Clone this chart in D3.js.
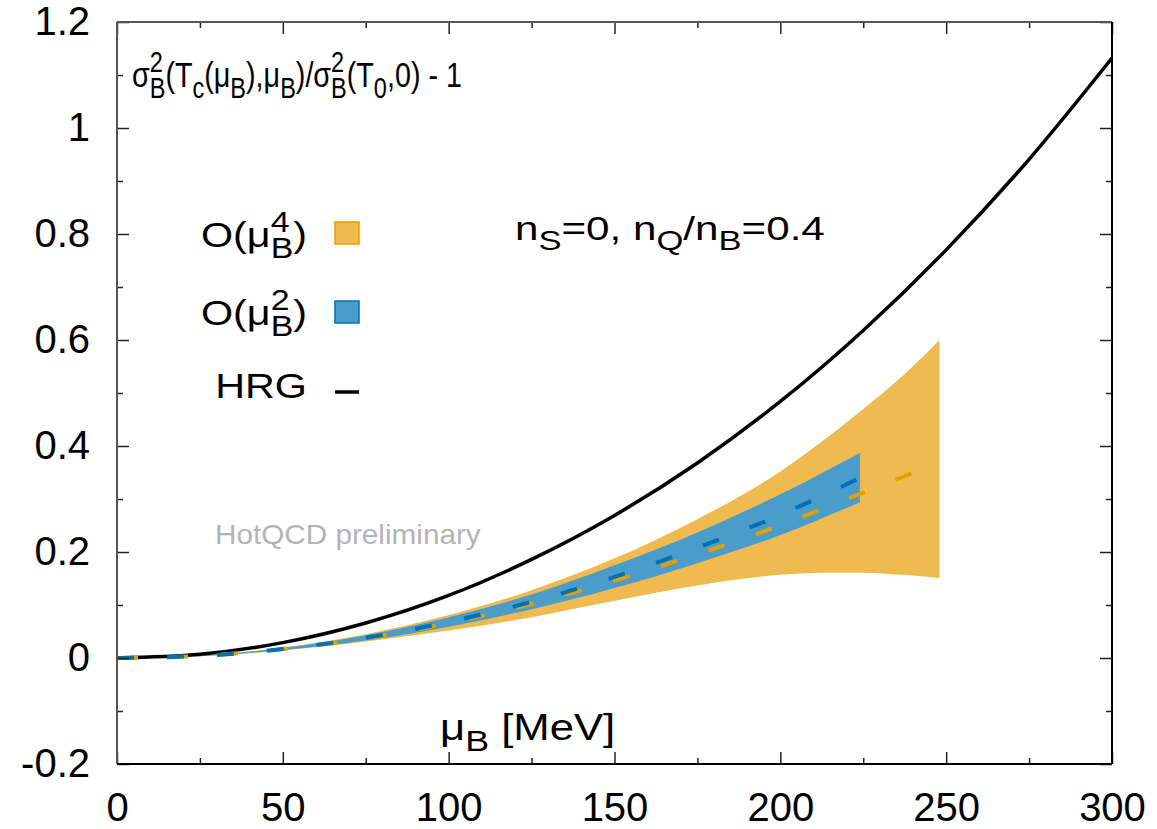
<!DOCTYPE html>
<html>
<head>
<meta charset="utf-8">
<script src="https://cdn.jsdelivr.net/npm/d3@7"></script>
<style>
  body { margin: 0; background: #fff; }
  text { font-family: "Liberation Sans", Arial, Helvetica, sans-serif; white-space: pre; }
</style>
</head>
<body>
<svg id="chart" width="1157" height="829"></svg>
<script>
// HRG curve
const hrgMu  = [0, 25, 50, 75, 100, 125, 150, 175, 200, 225, 250, 275, 300];
const hrgVal = [0, 0.007, 0.029, 0.066, 0.118, 0.186, 0.269, 0.368, 0.484, 0.618, 0.770, 0.941, 1.132];

// O(muB^4) band + central value
const o4Mu  = [0, 25, 50, 75, 100, 125, 150, 175, 200, 212, 225, 237, 248];
const o4Lo  = [0, 0.0035, 0.014, 0.031, 0.052, 0.077, 0.108, 0.137, 0.157, 0.161, 0.161, 0.157, 0.151];
const o4Hi  = [0, 0.0045, 0.020, 0.045, 0.081, 0.128, 0.188, 0.262, 0.352, 0.406, 0.470, 0.533, 0.600];
const o4Mid = [0, 0.004, 0.017, 0.037, 0.066, 0.102, 0.146, 0.196, 0.250, 0.280, 0.312, 0.342, 0.372];

// O(muB^2) band + central value
const o2Mu  = [0, 25, 50, 75, 100, 125, 150, 175, 200, 224];
const o2Lo  = [0, 0.0035, 0.015, 0.033, 0.059, 0.092, 0.132, 0.179, 0.232, 0.294];
const o2Hi  = [0, 0.0045, 0.019, 0.043, 0.077, 0.120, 0.175, 0.237, 0.309, 0.387];
const o2Mid = [0, 0.004, 0.017, 0.038, 0.068, 0.106, 0.153, 0.208, 0.270, 0.340];

const xMajor = [0, 50, 100, 150, 200, 250, 300];
const xMinor = [25, 75, 125, 175, 225, 275];
const yMajor = [-0.2, 0, 0.2, 0.4, 0.6, 0.8, 1, 1.2];
const yMinor = [-0.1, 0.1, 0.3, 0.5, 0.7, 0.9, 1.1];

const orangeFill = "#efba4f", orangeLine = "#e69f00";
const blueFill = "#4a9dca", blueLine = "#0072b2";

const svg = d3.select("#chart");
const plot = {left: 117, right: 1112, top: 22, bottom: 764};

const x = d3.scaleLinear().domain([0, 300]).range([plot.left, plot.right]);
const y = d3.scaleLinear().domain([-0.2, 1.2]).range([plot.bottom, plot.top]);

svg.append("clipPath").attr("id", "clip")
  .append("rect")
  .attr("x", plot.left).attr("y", plot.top)
  .attr("width", plot.right - plot.left).attr("height", plot.bottom - plot.top);

const body = svg.append("g").attr("clip-path", "url(#clip)");

function zipBand(mu, lo, hi) { return mu.map((m, i) => ({m: m, lo: lo[i], hi: hi[i]})); }
function zipLine(mu, v) { return mu.map((m, i) => ({m: m, v: v[i]})); }

const area = d3.area().curve(d3.curveMonotoneX)
  .x(d => x(d.m)).y0(d => y(d.lo)).y1(d => y(d.hi));
const line = d3.line().curve(d3.curveMonotoneX)
  .x(d => x(d.m)).y(d => y(d.v));

body.append("path").datum(zipBand(o4Mu, o4Lo, o4Hi))
  .attr("d", area).attr("fill", orangeFill);
body.append("path").datum(zipBand(o2Mu, o2Lo, o2Hi))
  .attr("d", area).attr("fill", blueFill);

body.append("path").datum(zipLine(hrgMu, hrgVal))
  .attr("d", line).attr("fill", "none")
  .attr("stroke", "#000").attr("stroke-width", 3.5);

body.append("path").datum(zipLine(o4Mu, o4Mid))
  .attr("d", line).attr("fill", "none")
  .attr("stroke", orangeLine).attr("stroke-width", 4)
  .attr("stroke-dasharray", "17,33").attr("stroke-dashoffset", -4);
body.append("path").datum(zipLine(o2Mu, o2Mid))
  .attr("d", line).attr("fill", "none")
  .attr("stroke", blueLine).attr("stroke-width", 4)
  .attr("stroke-dasharray", "17,33");

// axes, ticks inward on all four sides
function styleAxis(g) {
  g.select(".domain").remove();
  g.selectAll(".tick line").attr("stroke", "#222").attr("stroke-width", 1.5);
  g.selectAll(".tick text").attr("fill", "#000").attr("font-size", 40)
    .style("font-family", "'Liberation Sans', Arial, sans-serif");
}

svg.append("g").attr("transform", `translate(0,${plot.bottom})`)
  .call(d3.axisBottom(x).tickValues(xMajor).tickSize(-12).tickPadding(29).tickFormat(d => String(d)))
  .call(styleAxis);
svg.append("g").attr("transform", `translate(0,${plot.bottom})`)
  .call(d3.axisBottom(x).tickValues(xMinor).tickSize(-6).tickFormat(""))
  .call(styleAxis);
svg.append("g").attr("transform", `translate(0,${plot.top})`)
  .call(d3.axisTop(x).tickValues(xMajor).tickSize(-12).tickFormat(""))
  .call(styleAxis);
svg.append("g").attr("transform", `translate(0,${plot.top})`)
  .call(d3.axisTop(x).tickValues(xMinor).tickSize(-6).tickFormat(""))
  .call(styleAxis);

svg.append("g").attr("transform", `translate(${plot.left},0)`)
  .call(d3.axisLeft(y).tickValues(yMajor).tickSize(-12).tickPadding(27)
    .tickFormat(d => String(+d.toFixed(1))))
  .call(styleAxis);
svg.append("g").attr("transform", `translate(${plot.left},0)`)
  .call(d3.axisLeft(y).tickValues(yMinor).tickSize(-6).tickFormat(""))
  .call(styleAxis);
svg.append("g").attr("transform", `translate(${plot.right},0)`)
  .call(d3.axisRight(y).tickValues(yMajor).tickSize(-12).tickFormat(""))
  .call(styleAxis);
svg.append("g").attr("transform", `translate(${plot.right},0)`)
  .call(d3.axisRight(y).tickValues(yMinor).tickSize(-6).tickFormat(""))
  .call(styleAxis);

// frame
svg.append("line").attr("x1", plot.left).attr("x2", plot.left)
  .attr("y1", plot.top).attr("y2", plot.bottom).attr("stroke", "#555").attr("stroke-width", 2);
svg.append("line").attr("x1", plot.left).attr("x2", plot.right)
  .attr("y1", plot.top).attr("y2", plot.top).attr("stroke", "#555").attr("stroke-width", 2);
svg.append("line").attr("x1", plot.right).attr("x2", plot.right)
  .attr("y1", plot.top).attr("y2", plot.bottom).attr("stroke", "#000").attr("stroke-width", 2);
svg.append("line").attr("x1", plot.left).attr("x2", plot.right)
  .attr("y1", plot.bottom).attr("y2", plot.bottom).attr("stroke", "#000").attr("stroke-width", 2);

// rich text: segments [text, kind], kind: "" | "sub" | "sup" | [sup, sub] stacked
function richText(parent, x0, y0, segs, size, anchor, sx, color) {
  sx = sx || 1;
  const g = parent.append("g");
  let cx = 0;
  const small = size * 0.82;
  function put(t, dx, dy, fs) {
    const el = g.append("text").attr("x", cx + dx).attr("y", dy)
      .attr("font-size", fs).attr("fill", color || "#000").text(t);
    return el.node().getComputedTextLength();
  }
  segs.forEach(s => {
    const [t, kind] = s;
    if (kind === "sub") cx += put(t, 0, size * 0.3, small);
    else if (kind === "sup") cx += put(t, 0, -size * 0.42, small);
    else if (Array.isArray(kind)) {
      const w1 = put(kind[0], 0, -size * 0.42, small);
      const w2 = put(kind[1], 0, size * 0.3, small);
      cx += Math.max(w1, w2);
    } else cx += put(t, 0, 0, size);
  });
  const shift = anchor === "end" ? -cx : anchor === "middle" ? -cx / 2 : 0;
  g.attr("transform", `translate(${x0 + shift * sx},${y0}) scale(${sx},1)`);
  return g;
}

// title
richText(svg, 132, 87, [
  ["σ", ""], ["", ["2", "B"]], ["(T", ""], ["c", "sub"], ["(μ", ""], ["B", "sub"],
  ["),μ", ""], ["B", "sub"], [")/σ", ""], ["", ["2", "B"]], ["(T", ""], ["0", "sub"],
  [",0) - 1", ""]
], 35, "start", 0.82);

// annotation
richText(svg, 515, 240, [
  ["n", ""], ["S", "sub"], ["=0, n", ""], ["Q", "sub"], ["/n", ""], ["B", "sub"], ["=0.4", ""]
], 34, "start", 1.24);

// legend
const legendLabels = [
  [["O(μ", ""], ["", ["4", "B"]], [")", ""]],
  [["O(μ", ""], ["", ["2", "B"]], [")", ""]],
  [["HRG", ""]]
];
const legendY = [247, 325, 398];
legendLabels.forEach((segs, i) => richText(svg, 307, legendY[i], segs, 35, "end", 1.18));

svg.append("rect").attr("x", 335).attr("y", 222).attr("width", 24).attr("height", 22)
  .attr("fill", orangeFill).attr("stroke", orangeLine).attr("stroke-width", 1.5);
svg.append("rect").attr("x", 335).attr("y", 301).attr("width", 24).attr("height", 22)
  .attr("fill", blueFill).attr("stroke", blueLine).attr("stroke-width", 1.5);
svg.append("line").attr("x1", 335).attr("x2", 359).attr("y1", 392).attr("y2", 392)
  .attr("stroke", "#000").attr("stroke-width", 3.5);

// watermark
richText(svg, 215, 544, [["HotQCD preliminary", ""]], 27, "start", 1.1, "#b4b4b4");

// x label
richText(svg, 440, 740, [["μ", ""], ["B", "sub"], [" [MeV]", ""]], 37, "start", 1.18);
</script>
</body>
</html>
